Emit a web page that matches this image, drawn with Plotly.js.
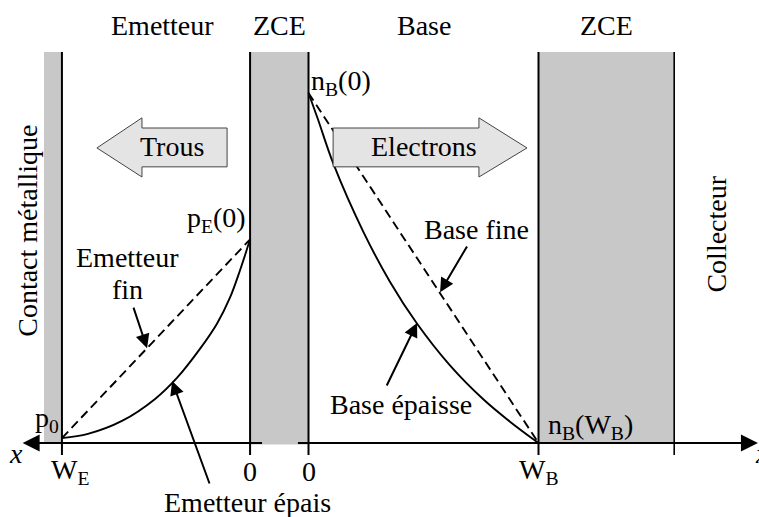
<!DOCTYPE html>
<html>
<head>
<meta charset="utf-8">
<script src="https://cdn.plot.ly/plotly-3.0.1.min.js"></script>
<style>
html,body{margin:0;padding:0;background:#ffffff;}
#chart{width:759px;height:517px;}
</style>
</head>
<body>
<div id="chart"></div>
<script>
// ---------- DATA (x in arbitrary units, base width W_B = 10; concentrations normalised to n_B(0) = 1) ----------
const regionLabels = ['Emetteur', 'ZCE', 'Base', 'ZCE'];
const contactBand = [-11.5, -10.72];        // contact métallique
const zceEmitterBase = [-2.54, 0];          // ZCE émetteur-base
const zceBaseCollector = [10, 15.9];        // ZCE base-collecteur
const boundaryLines = [-10.72, -2.54, 0, 10, 15.9];
const tickLabels = ['W<sub>E</sub>', '0', '0', 'W<sub>B</sub>', ''];

// Emetteur : trous minoritaires
const emitterThickX = [-10.72, -9.59, -8.11, -6.67, -5.72, -4.72, -3.98, -3.41, -2.98, -2.54];
const emitterThickP = [0.014, 0.026, 0.063, 0.126, 0.186, 0.269, 0.341, 0.416, 0.493, 0.582];
const emitterThinX = [-10.72, -2.54];
const emitterThinP = [0.014, 0.582];

// Base : électrons minoritaires
const baseThickX = [0, 0.41, 1.08, 2.38, 3.54, 4.70, 6.15, 7.60, 8.76, 10];
const baseThickN = [1.0, 0.925, 0.798, 0.604, 0.461, 0.343, 0.222, 0.125, 0.061, 0];
const baseThinX = [0, 10];
const baseThinN = [1, 0];

// ---------- STYLE ----------
const FONT = 'Liberation Serif';
const FS = 28;
const GRAY = '#c8c8c8';
const LIGHT = '#e4e4e4';
const TOP = 1.117, BOT = -0.034;

const solid = {color: '#000', width: 1.9};
const dashed = {color: '#000', width: 1.9, dash: '9px,5px'};

const traces = [
  {x: emitterThickX, y: emitterThickP, mode: 'lines', line: Object.assign({shape: 'spline', smoothing: 1}, solid), hoverinfo: 'skip'},
  {x: emitterThinX, y: emitterThinP, mode: 'lines', line: dashed, hoverinfo: 'skip'},
  {x: baseThickX, y: baseThickN, mode: 'lines', line: Object.assign({shape: 'spline', smoothing: 1}, solid), hoverinfo: 'skip'},
  {x: baseThinX, y: baseThinN, mode: 'lines', line: dashed, hoverinfo: 'skip'}
];

const shapes = [];
function band(r, y0) {
  shapes.push({type: 'rect', xref: 'x', yref: 'y', x0: r[0], x1: r[1], y0: y0, y1: TOP,
               fillcolor: GRAY, line: {width: 0}, layer: 'below'});
}
band(contactBand, 0);
band(zceEmitterBase, -0.004);
band(zceBaseCollector, 0);
boundaryLines.forEach((bx, i) => {
  shapes.push({type: 'line', xref: 'x', yref: 'y', x0: bx, x1: bx, y0: BOT, y1: TOP,
               line: {color: '#000', width: i === 4 ? 1.6 : 2}});
});
// axis (broken inside the emitter-base ZCE)
shapes.push({type: 'line', xref: 'x', yref: 'y', x0: -12.2, x1: -2.02, y0: 0, y1: 0, line: {color: '#000', width: 2}});
shapes.push({type: 'line', xref: 'x', yref: 'y', x0: -0.46, x1: 19.2, y0: 0, y1: 0, line: {color: '#000', width: 2}});
// block arrows "Trous" and "Electrons"
const arrowStyle = {fillcolor: LIGHT, line: {color: '#444', width: 1}, layer: 'above'};
shapes.push(Object.assign({type: 'path', xref: 'x', yref: 'y',
  path: 'M -9.20,0.843 L -7.24,0.929 L -7.24,0.900 L -3.54,0.900 L -3.54,0.789 L -7.24,0.789 L -7.24,0.760 Z'}, arrowStyle));
shapes.push(Object.assign({type: 'path', xref: 'x', yref: 'y',
  path: 'M 9.50,0.843 L 7.41,0.929 L 7.41,0.900 L 1.07,0.900 L 1.07,0.789 L 7.41,0.789 L 7.41,0.760 Z'}, arrowStyle));

const annotations = [];
function label(text, x, y, opts) {
  annotations.push(Object.assign({text: text, x: x, y: y, xref: 'x', yref: 'y', showarrow: false,
    xanchor: 'center', yanchor: 'middle', font: {family: FONT, size: FS, color: '#000'}}, opts || {}));
}
function pointer(tailX, tailY, tipX, tipY, size, width) {
  annotations.push({text: '', x: tipX, y: tipY, ax: tailX, ay: tailY, xref: 'x', yref: 'y',
    axref: 'x', ayref: 'y', showarrow: true, arrowhead: 2, arrowsize: size, arrowwidth: width,
    arrowcolor: '#000', standoff: 0, startstandoff: 0});
}
// region titles
const regionX = [-6.33, (zceEmitterBase[0] + zceEmitterBase[1]) / 2, 5, (zceBaseCollector[0] + zceBaseCollector[1]) / 2];
regionLabels.forEach((t, i) => label(t, regionX[i], 1.194));
// tick labels
boundaryLines.forEach((bx, i) => { if (tickLabels[i]) label(tickLabels[i], bx + (i === 0 ? 0.35 : 0), -0.08); });
// vertical labels
label('Contact métallique', -12.2, 0.606, {textangle: -90});
label('Collecteur', 17.74, 0.597, {textangle: -90});
// block arrow texts
label('Trous', -5.93, 0.846);
label('Electrons', 5.02, 0.846);
// point labels
label('n<sub>B</sub>(0)', 1.41, 1.03);
label('p<sub>E</sub>(0)', -4.02, 0.64);
label('p<sub>0</sub>', -11.39, 0.066);
label('n<sub>B</sub>(W<sub>B</sub>)', 12.28, 0.046);
// curve labels
label('Emetteur', -7.87, 0.531);
label('fin', -7.87, 0.44);
label('Emetteur épais', -2.65, -0.17);
label('Base fine', 7.30, 0.609);
label('Base épaisse', 4.0, 0.109);
// axis names
label('<i>x</i>', -12.70, -0.03);
label('<i>x</i>', 1.0035, -0.03, {xref: 'paper'});
// pointers
pointer(-4.28, -0.12, -5.93, 0.177, 1.4, 2);
pointer(-7.63, 0.391, -7.02, 0.271, 1.4, 2);
pointer(6.93, 0.566, 5.72, 0.431, 1.4, 2);
pointer(3.37, 0.16, 4.72, 0.343, 1.4, 2);
// axis arrowheads
pointer(-11.0, 0, -12.43, 0, 1.7, 2);
pointer(18.0, 0, 19.54, 0, 1.7, 2);

const layout = {
  width: 759, height: 517,
  margin: {l: 0, r: 0, t: 0, b: 0, pad: 0},
  paper_bgcolor: '#ffffff', plot_bgcolor: '#ffffff',
  showlegend: false,
  font: {family: FONT, size: FS, color: '#000'},
  xaxis: {range: [-13.413, 19.587], visible: false, fixedrange: true},
  yaxis: {range: [-0.2114, 1.2657], visible: false, fixedrange: true},
  shapes: shapes,
  annotations: annotations
};

Plotly.newPlot('chart', traces, layout, {displayModeBar: false, staticPlot: true});
</script>
</body>
</html>
